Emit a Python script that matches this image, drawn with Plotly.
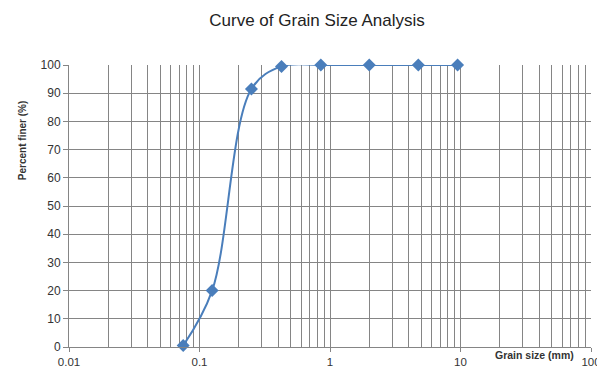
import plotly.graph_objects as go

grain_size_mm = [0.075, 0.125, 0.25, 0.425, 0.85, 2.0, 4.75, 9.5]
percent_finer = [0.5, 20, 91.5, 99.5, 100, 100, 100, 100]
x_tick_vals = [0.01, 0.1, 1, 10, 100]
x_tick_text = ["0.01", "0.1", "1", "10", "100"]

fig = go.Figure()
fig.add_trace(go.Scatter(
    x=grain_size_mm, y=percent_finer, mode="lines+markers",
    line=dict(color="#4A7EBB", width=2, shape="spline", smoothing=1.0),
    marker=dict(symbol="diamond", size=10, color="#4A7EBB"),
    showlegend=False, cliponaxis=False,
))

grid = "#858585"
# page body has an 8px margin; figure is sized/offset to compensate
fig.update_layout(
    width=597, height=360,
    margin=dict(l=61, r=14, t=57, b=21),
    paper_bgcolor="white", plot_bgcolor="white",
    font=dict(family="Liberation Sans, Arial, sans-serif", color="#333"),
    title=dict(text="Curve of Grain Size Analysis", x=0.5176, xanchor="center",
               y=0.967, yanchor="middle",
               font=dict(size=17, color="#222")),
    xaxis=dict(type="log", range=[-2, 2], tickvals=x_tick_vals, ticktext=x_tick_text,
               showgrid=True, gridcolor=grid, gridwidth=1,
               minor=dict(showgrid=True, gridcolor=grid, gridwidth=1, dtick="D1", ticks=""),
               showline=True, linecolor=grid, linewidth=1, mirror=False,
               ticks="outside", ticklen=4, tickcolor=grid, automargin=False,
               tickfont=dict(size=11.5, color="#333"), zeroline=False),
    yaxis=dict(range=[0, 100], dtick=10, showgrid=True, gridcolor=grid, gridwidth=1,
               showline=True, linecolor=grid, linewidth=1, automargin=False,
               ticks="outside", ticklen=5, tickcolor=grid,
               tickfont=dict(size=12, color="#333"), zeroline=False),
    annotations=[
        dict(text="<b>Grain size (mm)</b>", x=0.972, xref="paper", xanchor="right",
             y=0.0, yref="paper", yanchor="top", showarrow=False,
             font=dict(size=10.5, color="#333")),
        dict(text="<b>Percent finer (%)</b>", x=-0.09, xref="paper", xanchor="center",
             y=0.73, yref="paper", yanchor="middle", showarrow=False, textangle=-90,
             font=dict(size=10, color="#333")),
    ],
)

fig.write_html("out.html")
